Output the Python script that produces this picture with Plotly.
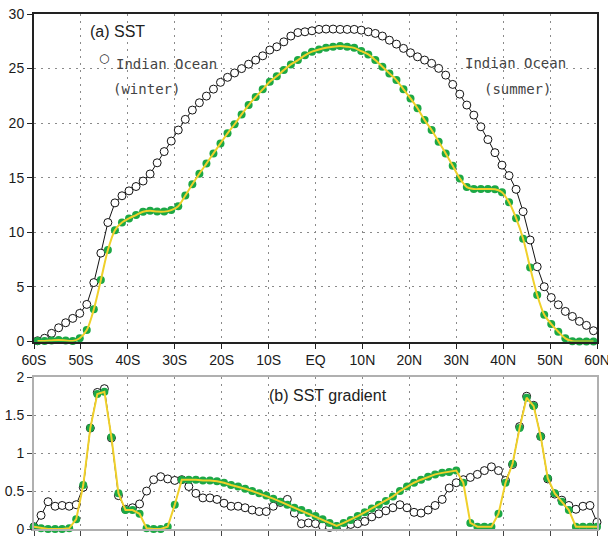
import plotly.graph_objects as go

# ---------------- data ----------------
lat_sst = [-59.25, -57.75, -56.25, -54.75, -53.25, -51.75, -50.25, -48.75, -47.25, -45.75,
           -44.25, -42.75, -41.25, -39.75, -38.25, -36.75, -35.25, -33.75, -32.25, -30.75,
           -29.25, -27.75, -26.25, -24.75, -23.25, -21.75, -20.25, -18.75, -17.25, -15.75,
           -14.25, -12.75, -11.25, -9.75, -8.25, -6.75, -5.25, -3.75, -2.25, -0.75,
           0.75, 2.25, 3.75, 5.25, 6.75, 8.25, 9.75, 11.25, 12.75, 14.25,
           15.75, 17.25, 18.75, 20.25, 21.75, 23.25, 24.75, 26.25, 27.75, 29.25,
           30.75, 32.25, 33.75, 35.25, 36.75, 38.25, 39.75, 41.25, 42.75, 44.25,
           45.75, 47.25, 48.75, 50.25, 51.75, 53.25, 54.75, 56.25, 57.75, 59.25]

sst_indian = [0.07, 0.3, 0.75, 1.26, 1.72, 2.12, 2.58, 3.4, 5.4, 8.1,
              10.9, 12.7, 13.35, 13.8, 14.2, 14.7, 15.35, 16.37, 17.4, 18.36,
              19.37, 20.35, 21.2, 21.87, 22.48, 23.12, 23.74, 24.2, 24.6, 25.0,
              25.4, 25.78, 26.17, 26.7, 27.0, 27.45, 27.98, 28.3, 28.37, 28.46,
              28.59, 28.62, 28.62, 28.59, 28.59, 28.59, 28.52, 28.37, 28.22, 27.98,
              27.6, 27.24, 26.85, 26.45, 26.08, 25.78, 25.48, 25.02, 24.4, 23.55,
              22.66, 21.66, 20.74, 19.67, 18.5, 17.3, 16.16, 15.2, 13.94, 11.9,
              9.3, 6.85, 5.02, 4.03, 3.37, 2.76, 2.3, 1.85, 1.48, 0.99]

sst_ideal = [0.05, 0.05, 0.1, 0.15, 0.1, 0.05, 0.3, 1.05, 2.95, 5.63,
             8.38, 10.2, 10.9, 11.28, 11.58, 11.89, 11.98, 11.9, 11.9, 12.04,
             12.4, 13.37, 14.4, 15.37, 16.3, 17.23, 18.15, 19.07, 19.9, 20.8,
             21.66, 22.4, 23.1, 23.8, 24.3, 24.86, 25.38, 25.78, 26.22, 26.55,
             26.75, 26.9, 27.0, 27.06, 27.0, 26.9, 26.6, 26.3, 25.78, 25.17,
             24.56, 23.95, 23.1, 22.27, 21.36, 20.28, 19.37, 18.3, 17.23, 16.1,
             14.94, 14.15, 13.97, 13.97, 13.97, 13.94, 13.68, 12.75, 11.3, 9.42,
             6.78, 4.26, 2.45, 1.6, 0.9, 0.29, 0.03, 0.0, 0.0, 0.0]

lat_grad = [-60, -58.5, -57, -55.5, -54, -52.5, -51, -49.5, -48, -46.5,
            -45, -43.5, -42, -40.5, -39, -37.5, -36, -34.5, -33, -31.5,
            -30, -28.5, -27, -25.5, -24, -22.5, -21, -19.5, -18, -16.5,
            -15, -13.5, -12, -10.5, -9, -7.5, -6, -4.5, -3, -1.5,
            0, 1.5, 3, 4.5, 6, 7.5, 9, 10.5, 12, 13.5,
            15, 16.5, 18, 19.5, 21, 22.5, 24, 25.5, 27, 28.5,
            30, 31.5, 33, 34.5, 36, 37.5, 39, 40.5, 42, 43.5,
            45, 46.5, 48, 49.5, 51, 52.5, 54, 55.5, 57, 58.5, 60]

grad_indian = [0.03, 0.18, 0.36, 0.3, 0.31, 0.3, 0.32, 0.55, 1.33, 1.8,
               1.85, 1.2, 0.44, 0.26, 0.28, 0.33, 0.5, 0.65, 0.69, 0.66,
               0.64, 0.65, 0.56, 0.47, 0.41, 0.41, 0.39, 0.34, 0.3, 0.3,
               0.28, 0.25, 0.23, 0.23, 0.3, 0.35, 0.39, 0.21, 0.07, 0.08,
               0.07, 0.04, 0.02, 0.03, 0.03, 0.06, 0.07, 0.1, 0.16, 0.2,
               0.24, 0.28, 0.32, 0.28, 0.22, 0.21, 0.25, 0.31, 0.39, 0.54,
               0.61, 0.65, 0.68, 0.72, 0.77, 0.82, 0.77, 0.64, 0.85, 1.35,
               1.75, 1.63, 1.22, 0.66, 0.46, 0.38, 0.31, 0.26, 0.3, 0.31, 0.09]

grad_ideal = [0.03, 0.01, 0.0, 0.0, 0.0, 0.01, 0.13, 0.58, 1.33, 1.78,
              1.81, 1.21, 0.47, 0.25, 0.25, 0.2, 0.01, 0.0, 0.0, 0.03,
              0.32, 0.65, 0.65, 0.65, 0.64, 0.64, 0.63, 0.61, 0.58, 0.56,
              0.53, 0.5, 0.47, 0.44, 0.4, 0.36, 0.32, 0.28, 0.25, 0.21,
              0.17, 0.13, 0.08, 0.04, 0.08, 0.12, 0.17, 0.22, 0.27, 0.32,
              0.37, 0.43, 0.5, 0.56, 0.61, 0.65, 0.69, 0.72, 0.74, 0.75,
              0.77, 0.61, 0.08, 0.03, 0.03, 0.03, 0.2, 0.61, 0.86, 1.33,
              1.73, 1.62, 1.22, 0.67, 0.47, 0.36, 0.25, 0.03, 0.03, 0.03, 0.03]

lat_ticks = [-60, -50, -40, -30, -20, -10, 0, 10, 20, 30, 40, 50, 60]
lat_labels = ["60S", "50S", "40S", "30S", "20S", "10S", "EQ", "10N", "20N", "30N", "40N", "50N", "60N"]
sst_ticks = [0, 5, 10, 15, 20, 25, 30]
grad_ticks = [0, 0.5, 1, 1.5, 2]
grad_labels = ["0", "0.5", "1", "1.5", "2"]

# ---------------- styles ----------------
GREEN = "#1ca845"
YELLOW = "#f0d02a"
FONT = "Liberation Sans"

fig = go.Figure()

def add_panel(xa, ya, xs, ys_black, xs2, ys_green, shape):
    fig.add_trace(go.Scatter(x=xs, y=ys_black, mode="lines+markers", xaxis=xa, yaxis=ya,
                             line=dict(color="#111", width=1),
                             marker=dict(symbol="circle", size=8, color="white",
                                         line=dict(color="#111", width=1)),
                             cliponaxis=False, showlegend=False))
    fig.add_trace(go.Scatter(x=xs2, y=ys_green, mode="markers", xaxis=xa, yaxis=ya,
                             marker=dict(symbol="circle", size=8, color=GREEN, line=dict(width=0)),
                             cliponaxis=False, showlegend=False))
    fig.add_trace(go.Scatter(x=xs2, y=ys_green, mode="lines", xaxis=xa, yaxis=ya,
                             line=dict(color=YELLOW, width=2, shape=shape, smoothing=0.8),
                             cliponaxis=False, showlegend=False))

add_panel("x", "y", lat_sst, sst_indian, lat_sst, sst_ideal, "spline")
add_panel("x2", "y2", lat_grad, grad_indian, lat_grad, grad_ideal, "linear")

grid_common = dict(showgrid=True, gridcolor="#8a8a8a", gridwidth=1, griddash="2px,5px",
                   zeroline=False, ticks="outside", ticklen=5, tickwidth=1, automargin=False,
                   ticklabeloverflow="allow",
                   tickfont=dict(family=FONT, size=14, color="#1a1a1a"))

fig.update_layout(
    width=608, height=538,
    margin=dict(l=34, r=11, t=14, b=9),
    paper_bgcolor="white", plot_bgcolor="white",
    xaxis=dict(range=[-60, 60], domain=[0, 1], anchor="y", tickvals=lat_ticks, ticktext=lat_labels,
               showline=True, linecolor="#222", linewidth=2, mirror=True, tickcolor="#222",
               **grid_common),
    yaxis=dict(range=[0, 30], domain=[0.364, 1], anchor="x", tickvals=sst_ticks,
               showline=True, linecolor="#222", linewidth=2, mirror=True, tickcolor="#222",
               **grid_common),
    xaxis2=dict(range=[-60, 60], domain=[0, 1], anchor="y2", tickvals=lat_ticks,
                showticklabels=False, showline=True, linecolor="#b0b0b0", linewidth=2,
                mirror=True, tickcolor="#444", **grid_common),
    yaxis2=dict(range=[0, 2], domain=[0, 0.2946], anchor="x2", tickvals=grad_ticks,
                ticktext=grad_labels, showline=True, linecolor="#b0b0b0", linewidth=2,
                mirror=True, tickcolor="#444", **grid_common),
)

txt_font = dict(family="DejaVu Sans Mono", size=14, color="#444")
annotations = [
    dict(text="(a) SST", x=-42.3, y=28.43, xref="x", yref="y",
         font=dict(family=FONT, size=16, color="#222")),
    dict(text="○", x=-45.1, y=25.96, xref="x", yref="y",
         font=dict(family="DejaVu Sans", size=12, color="#222")),
    dict(text="Indian Ocean", x=-31.75, y=25.41, xref="x", yref="y", font=txt_font),
    dict(text="(winter)", x=-36.1, y=23.12, xref="x", yref="y", font=txt_font),
    dict(text="Indian Ocean", x=42.6, y=25.5, xref="x", yref="y", font=txt_font),
    dict(text="(summer)", x=43.0, y=23.12, xref="x", yref="y", font=txt_font),
    dict(text="(b) SST gradient", x=2.76, y=1.756, xref="x2", yref="y2",
         font=dict(family=FONT, size=16, color="#222")),
]
for a in annotations:
    a.update(showarrow=False, xanchor="center", yanchor="middle")
fig.update_layout(annotations=annotations)

fig.write_html("out.html", config={"displayModeBar": False},
               post_script="document.body.style.margin='0';document.body.style.overflow='hidden';")
